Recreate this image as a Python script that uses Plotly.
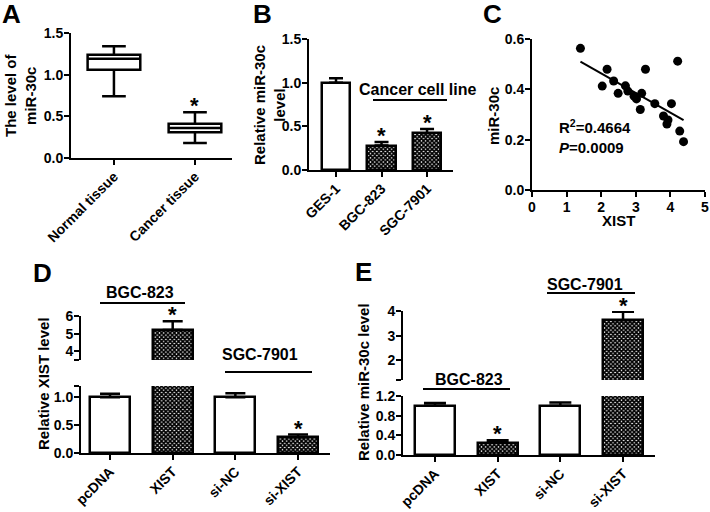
import plotly.graph_objects as go

W, H = 710, 512

# ---------------- data ----------------
# Panel A (box plot)
a_cats = ["Normal tissue", "Cancer tissue"]
a_q1 = [1.06, 0.31]
a_median = [1.19, 0.36]
a_q3 = [1.24, 0.41]
a_low = [0.74, 0.18]
a_high = [1.34, 0.55]

# Panel B
b_cats = ["GES-1", "BGC-823", "SGC-7901"]
b_vals = [1.0, 0.28, 0.42]
b_err = [0.05, 0.04, 0.05]
b_pat = ["", "x", "x"]

# Panel C (scatter + fit)
c_xist = [1.40, 2.17, 2.03, 2.36, 2.49, 2.70, 2.77, 2.95, 3.02, 3.17, 3.13,
          3.28, 3.55, 3.80, 3.90, 3.93, 4.03, 4.21, 4.27, 4.38]
c_mir = [0.563, 0.48, 0.413, 0.433, 0.384, 0.414, 0.393, 0.373, 0.362, 0.384, 0.32,
         0.48, 0.343, 0.294, 0.262, 0.278, 0.343, 0.512, 0.234, 0.192]
c_fit_x = [1.40, 4.38]
c_fit_y = [0.51, 0.278]

# Panel D
d_cats = ["pcDNA", "XIST", "si-NC", "si-XIST"]
d_vals = [1.0, 5.2, 1.0, 0.28]
d_err = [0.06, 0.5, 0.07, 0.05]
d_pat = ["", "x", "", "x"]

# Panel E
e_cats = ["pcDNA", "XIST", "si-NC", "si-XIST"]
e_vals = [1.0, 0.25, 1.0, 3.62]
e_err = [0.06, 0.05, 0.07, 0.35]
e_pat = ["", "x", "", "x"]


def px(x):
    return x / W


def py(y):
    return 1 - y / H


FONT = "Liberation Sans"
fig = go.Figure()

# A
fig.add_trace(go.Box(x=a_cats, q1=a_q1, median=a_median, q3=a_q3,
                     lowerfence=a_low, upperfence=a_high, width=0.65,
                     whiskerwidth=0.45, fillcolor="white",
                     line=dict(color="black", width=2.5),
                     xaxis="x", yaxis="y", showlegend=False, hoverinfo="skip"))


def bar(cats, vals, err, pats, xa, ya, width, capw):
    return go.Bar(
        x=cats, y=vals, width=width, xaxis=xa, yaxis=ya, showlegend=False,
        marker=dict(color="white", line=dict(color="black", width=2.5),
                    pattern=dict(shape=pats, fgcolor="black", bgcolor="white",
                                 size=3, solidity=0.8)),
        error_y=dict(type="data", array=err, arrayminus=[0] * len(err),
                     symmetric=False, color="black", thickness=2.5, width=capw),
    )


fig.add_trace(bar(b_cats, b_vals, b_err, b_pat, "x2", "y2", 0.62, 7))

# C
fig.add_trace(go.Scatter(x=c_xist, y=c_mir, mode="markers",
                         marker=dict(color="black", size=9),
                         xaxis="x3", yaxis="y3", showlegend=False))
fig.add_trace(go.Scatter(x=c_fit_x, y=c_fit_y, mode="lines",
                         line=dict(color="black", width=2),
                         xaxis="x3", yaxis="y3", showlegend=False))

# D (broken axis: lower + upper)
fig.add_trace(bar(d_cats, d_vals, d_err, d_pat, "x4", "y4", 0.64, 10))
fig.add_trace(bar(d_cats, d_vals, d_err, d_pat, "x5", "y5", 0.64, 10))
# E
fig.add_trace(bar(e_cats, e_vals, e_err, e_pat, "x6", "y6", 0.64, 11))
fig.add_trace(bar(e_cats, e_vals, e_err, e_pat, "x7", "y7", 0.64, 11))

ax = dict(showline=True, linecolor="black", linewidth=2, ticks="outside",
          ticklen=5, tickwidth=2, tickcolor="black", showgrid=False,
          zeroline=False, tickfont=dict(size=14, family=FONT, color="black", weight="bold"),
          fixedrange=True, ticklabeloverflow="allow", automargin=False,
          ticklabelstandoff=-2)


def cap(v):
    return dict(tickvals=[v], ticks="outside", ticklen=5, tickwidth=2,
                tickcolor="black", showgrid=False)


fig.update_layout(
    template="none",
    width=W, height=H, margin=dict(l=0, r=0, t=0, b=0, pad=0, autoexpand=False),
    paper_bgcolor="white", plot_bgcolor="white",
    font=dict(family=FONT, color="black", size=14, weight="bold"),
    bargap=0, showlegend=False,
    xaxis=dict(ax, domain=[px(71), px(232)], anchor="y", type="category",
               range=[-0.53, 1.457], tickangle=-45),
    yaxis=dict(ax, domain=[py(158), py(33)], anchor="x", range=[0, 1.5],
               tickvals=[0, 0.5, 1.0, 1.5], tickformat=".1f"),
    xaxis2=dict(ax, domain=[px(309), px(453)], anchor="y2", type="category",
                range=[-0.593, 2.57], tickangle=-45),
    yaxis2=dict(ax, domain=[py(170), py(39)], anchor="x2", range=[0, 1.5],
                tickvals=[0, 0.5, 1.0, 1.5], tickformat=".1f"),
    xaxis3=dict(ax, domain=[px(532), px(705)], anchor="y3", range=[0, 5],
                tickvals=[0, 1, 2, 3, 4, 5]),
    yaxis3=dict(ax, domain=[py(190), py(39)], anchor="x3", range=[0, 0.6],
                tickvals=[0, 0.2, 0.4, 0.6], tickformat=".1f"),
    xaxis4=dict(ax, domain=[px(81), px(330)], anchor="y4", type="category",
                range=[-0.463, 3.51], tickangle=-45),
    yaxis4=dict(ax, domain=[py(453), py(386)], anchor="x4", range=[0, 1.2],
                tickvals=[0, 0.5, 1.0], tickformat=".1f", minor=cap(1.2)),
    xaxis5=dict(domain=[px(81), px(330)], anchor="y5", matches="x4", visible=False,
                type="category", automargin=False),
    yaxis5=dict(ax, domain=[py(360), py(316)], anchor="x5", range=[3.5, 6],
                tickvals=[4, 5, 6], minor=cap(3.5)),
    xaxis6=dict(ax, domain=[px(403), px(655)], anchor="y6", type="category",
                range=[-0.51, 3.51], tickangle=-45),
    yaxis6=dict(ax, domain=[py(455), py(396)], anchor="x6", range=[0, 1.2],
                tickvals=[0, 0.4, 0.8, 1.2], tickformat=".1f"),
    xaxis7=dict(domain=[px(403), px(655)], anchor="y7", matches="x6", visible=False,
                type="category", automargin=False),
    yaxis7=dict(ax, domain=[py(380), py(311)], anchor="x7", range=[1.2, 4],
                tickvals=[2, 3, 4], minor=cap(1.2)),
)

ann = []
# panel letters
for t, x, y in [("A", 12, 14), ("B", 262, 14), ("C", 492, 14), ("D", 42, 273), ("E", 363, 272)]:
    ann.append(dict(text=t, x=px(x), y=py(y), xref="paper", yref="paper",
                    xanchor="center", yanchor="middle", showarrow=False,
                    font=dict(size=26, family=FONT, weight="bold")))
# y-axis titles
for t, x, y in [("The level of<br>miR-30c", 20, 95), ("Relative miR-30c<br>level", 269, 105),
                ("miR-30c", 493, 116), ("Relative XIST level", 43, 384),
                ("Relative miR-30c level", 363, 382)]:
    ann.append(dict(text=t, x=px(x), y=py(y), xref="paper", yref="paper",
                    xanchor="center", yanchor="middle", showarrow=False, textangle=-90,
                    font=dict(size=15, family=FONT, weight="bold")))
ann.append(dict(text="XIST", x=px(618), y=py(220), xref="paper", yref="paper",
                xanchor="center", yanchor="middle",
                showarrow=False, font=dict(size=15, family=FONT, weight="bold")))
ann.append(dict(text="R<sup>2</sup>=0.4664<br><i>P</i>=0.0009", x=px(557), y=py(136),
                xref="paper", yref="paper", xanchor="left", yanchor="middle", align="left",
                showarrow=False, font=dict(size=15, family=FONT, weight="bold")))
# group labels
for t, x, y in [("Cancer cell line", 417, 89), ("BGC-823", 140, 292), ("SGC-7901", 260, 354),
                ("SGC-7901", 585, 284), ("BGC-823", 469, 379)]:
    ann.append(dict(text=t, x=px(x), y=py(y), xref="paper", yref="paper",
                    xanchor="center", yanchor="middle", showarrow=False,
                    font=dict(size=16, family=FONT, weight="bold")))
# stars
stars = [("x", "y", a_cats[1], a_high[1])]
stars += [("x2", "y2", b_cats[i], b_vals[i] + b_err[i]) for i in (1, 2)]
stars += [("x5", "y5", d_cats[1], d_vals[1] + d_err[1]), ("x4", "y4", d_cats[3], d_vals[3] + d_err[3])]
stars += [("x6", "y6", e_cats[1], e_vals[1] + e_err[1]), ("x7", "y7", e_cats[3], e_vals[3] + e_err[3])]
for xr, yr, x, y in stars:
    ann.append(dict(text="*", x=x, y=y, xref=xr, yref=yr, xanchor="center",
                    yanchor="bottom", yshift=-8, showarrow=False,
                    font=dict(size=22, family=FONT, weight="bold")))
fig.update_layout(annotations=ann)

shapes = []
for x0, x1, y in [(373, 447, 100), (100, 185, 303), (225, 312, 372), (547, 635, 293), (423, 510, 389)]:
    shapes.append(dict(type="line", xref="paper", yref="paper", x0=px(x0), x1=px(x1),
                       y0=py(y), y1=py(y), line=dict(color="black", width=2)))
fig.update_layout(shapes=shapes)

fig.write_html("out.html", config={"displayModeBar": False},
               post_script="document.body.style.margin='0px';"
               "document.body.style.overflow='hidden';")
